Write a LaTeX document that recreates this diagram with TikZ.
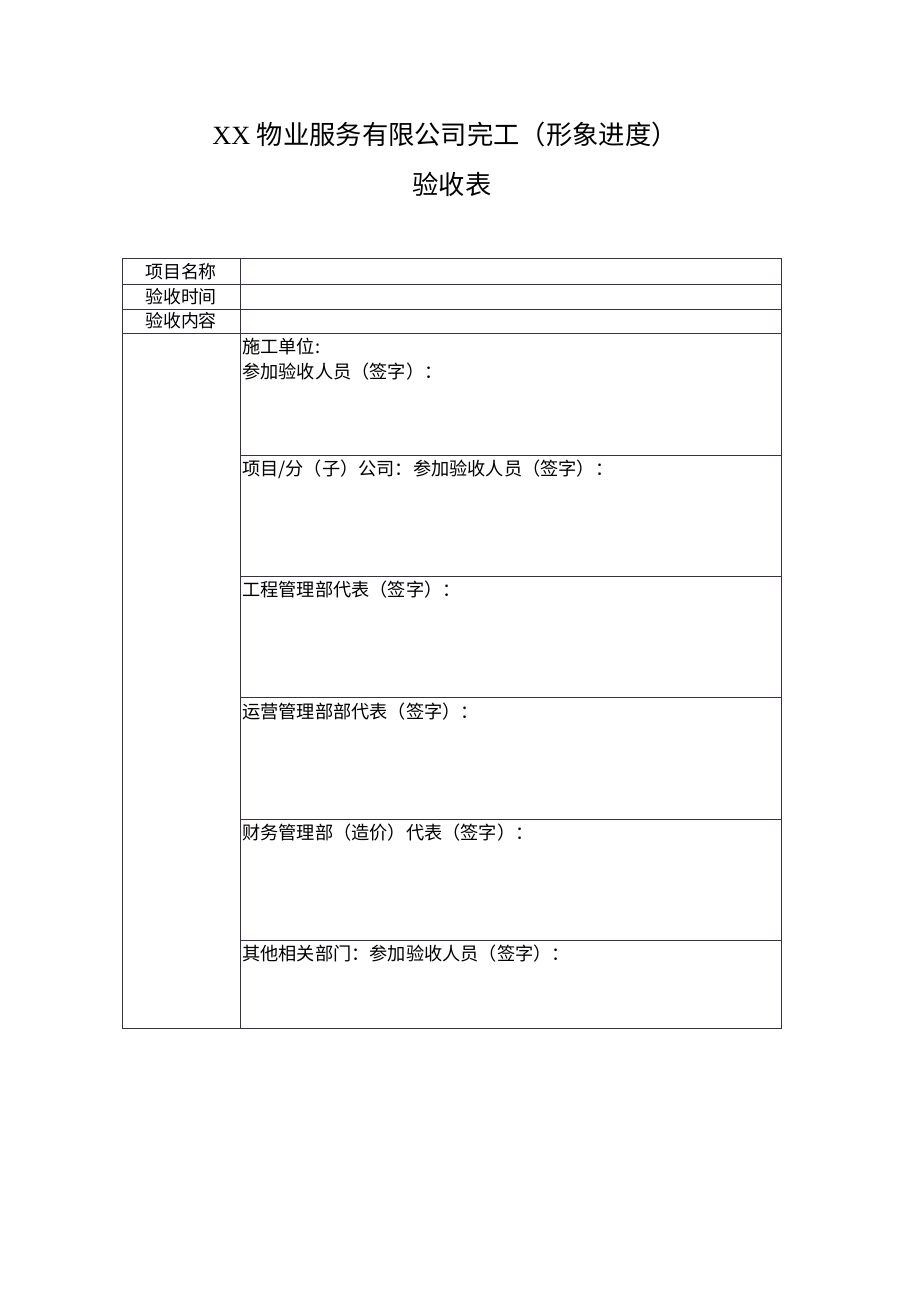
\documentclass[tikz,border=0pt]{standalone}
\usepackage{fontspec}
\setmainfont{Liberation Serif}
\newfontfamily\cjk{Noto Sans CJK SC}
\usetikzlibrary{positioning}
\definecolor{rulegray}{RGB}{58,48,66}
\tikzset{
  rule/.style={draw=rulegray, line width=1pt},
  headtxt/.style={anchor=base, inner sep=0pt, font=\fontsize{26.3}{31}\selectfont},
  celltxt/.style={anchor=base west, inner sep=0pt, font=\cjk\fontsize{18.2}{21}\selectfont},
  labeltxt/.style={anchor=base, inner sep=0pt, font=\cjk\fontsize{17.9}{21}\selectfont}
}

\begin{document}
\begin{tikzpicture}[x=1pt, y=-1pt]
		\useasboundingbox[fill=white] (0, 0) rectangle (920, 1301);
		%%%%% TITLE %%%%%
		\node[headtxt] (title) at (445, 144.5) {XX {\cjk 物业服务有限公司完工（形象进度）}};
		\node[headtxt] (subtitle) at (452, 194.5) {\cjk 验收表};
		
		%%%%% TABLE %%%%%
		\draw[rule] (122, 258) rectangle (781, 1028);
		\draw[rule] (240, 258) -- (240, 1028);
		\foreach \y in {284, 309, 333}
			\draw[rule] (122, \y) -- (781, \y);
		\foreach \y in {455, 576, 697, 819, 940}
			\draw[rule] (240, \y) -- (781, \y);
		
		%%%%% LEFT LABELS %%%%%
		\node[labeltxt] (name) at (181, 278) {项目名称};
		\node[labeltxt] (time) at (181, 303) {验收时间};
		\node[labeltxt] (content) at (181, 327) {验收内容};
		
		%%%%% SIGN CELLS %%%%%
		\node[celltxt] (builder) at (242, 353) {施工单位:};
		\node[celltxt] (builderSign) at (242, 378) {参加验收人员（签字）：};
		\node[celltxt] (project) at (242, 475) {项目/分（子）公司：参加验收人员（签字）：};
		\node[celltxt] (engineering) at (242, 596) {工程管理部代表（签字）：};
		\node[celltxt] (operation) at (242, 718) {运营管理部部代表（签字）：};
		\node[celltxt] (finance) at (242, 839) {财务管理部（造价）代表（签字）：};
		\node[celltxt] (others) at (242, 960) {其他相关部门：参加验收人员（签字）：};
	\end{tikzpicture}
\end{document}
